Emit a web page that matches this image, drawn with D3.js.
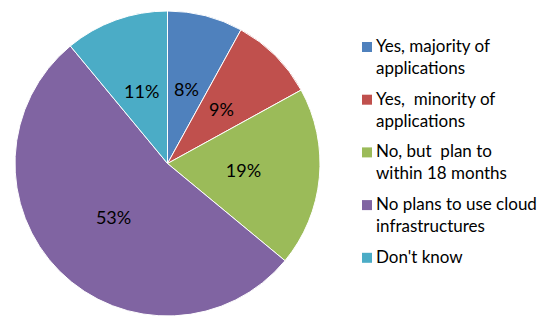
<!DOCTYPE html>
<html>
<head>
<meta charset="utf-8">
<script src="https://cdn.jsdelivr.net/npm/d3@7"></script>
<style>
  html, body { margin: 0; padding: 0; background: #fff; }
  svg { display: block; }
  text { font-family: Lato, "Open Sans", sans-serif; fill: #000; }
</style>
</head>
<body>
<svg id="chart" width="544" height="331"></svg>
<script>
// Survey answers, clockwise from 12 o'clock
const categories = [
  ["Yes, majority of", "applications"],
  ["Yes,  minority of", "applications"],
  ["No, but  plan to", "within 18 months"],
  ["No plans to use cloud", "infrastructures"],
  ["Don't know"]
];
const shares = [8, 9, 19, 53, 11];
const colors = ["#4F81BD", "#C0504D", "#9BBB59", "#8064A2", "#4BACC6"];

const data = shares.map((v, i) => ({ lines: categories[i], value: v, color: colors[i] }));

const svg = d3.select("#chart");
const cx = 167.5, cy = 163.5, radius = 152.5;

const pie = d3.pie().value(d => d.value).sort(null);
const arc = d3.arc().innerRadius(0).outerRadius(radius);

const g = svg.append("g").attr("transform", `translate(${cx},${cy})`);
const arcs = pie(data);

g.selectAll("path.slice")
  .data(arcs)
  .join("path")
  .attr("class", "slice")
  .attr("d", arc)
  .attr("fill", d => d.data.color)
  .attr("stroke", "#fff")
  .attr("stroke-width", 1);

g.selectAll("text.pct")
  .data(arcs)
  .join("text")
  .attr("class", "pct")
  .attr("transform", d => `translate(${arc.centroid(d)})`)
  .attr("text-anchor", "middle")
  .attr("dy", "0.36em")
  .style("font-size", "18px")
  .text(d => d.data.value + "%");

// Legend
const legend = svg.append("g").attr("transform", "translate(362,52)");
const itemStep = 52.7, lineStep = 22;
const item = legend.selectAll("g.item")
  .data(data)
  .join("g")
  .attr("class", "item")
  .attr("transform", (d, i) => `translate(0,${i * itemStep})`);

item.append("rect")
  .attr("x", 0).attr("y", -10)
  .attr("width", 10).attr("height", 10)
  .attr("fill", d => d.color);

item.append("text")
  .attr("x", 14)
  .style("font-size", "17px")
  .style("white-space", "pre")
  .selectAll("tspan")
  .data(d => d.lines)
  .join("tspan")
  .attr("x", 14)
  .attr("y", (d, i) => i * lineStep)
  .text(d => d);
</script>
</body>
</html>
